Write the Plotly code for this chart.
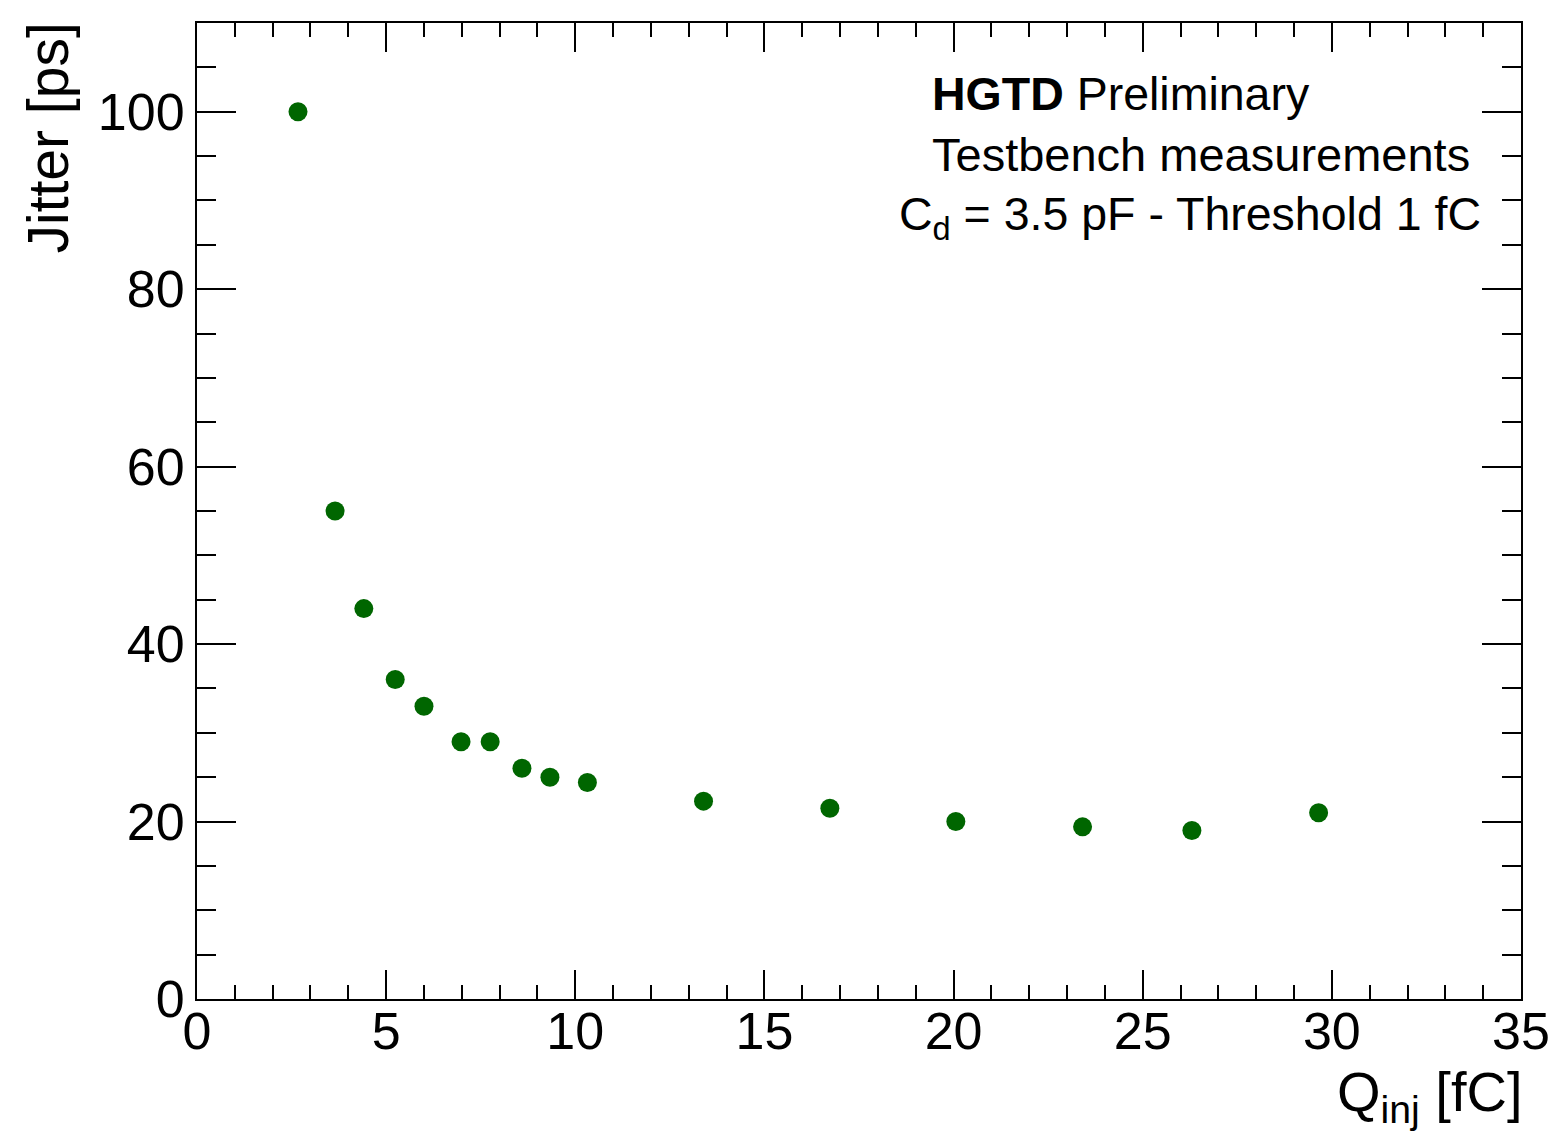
import plotly.graph_objects as go

q_inj = [2.67, 3.65, 4.41, 5.24, 6.0, 6.98, 7.75, 8.59, 9.33, 10.32, 13.39, 16.73, 20.06, 23.41, 26.30, 29.65]
jitter = [100.0, 55.0, 44.0, 36.0, 33.0, 29.0, 29.0, 26.0, 25.0, 24.4, 22.3, 21.5, 20.0, 19.4, 19.0, 21.0]

x_ticks = [0, 5, 10, 15, 20, 25, 30, 35]
y_ticks = [0, 20, 40, 60, 80, 100]

FONT = "Liberation Sans, Arial, Helvetica, sans-serif"
W, H = 1556, 1139
L, R, T, B = 197, 35, 23, 140
PW, PH = W - L - R, H - T - B


def px(xp):
    return (xp - L) / PW


def py(yp):
    return (H - B - yp) / PH


fig = go.Figure()
fig.add_trace(go.Scatter(
    x=q_inj, y=jitter, mode="markers",
    marker=dict(size=19, color="#006600", line=dict(width=0)),
    showlegend=False, cliponaxis=False,
))

axis_common = dict(
    showline=True, linecolor="black", linewidth=2, mirror="allticks",
    ticks="inside", tickwidth=2, tickcolor="black",
    showgrid=False, zeroline=False, automargin=False,
    tickfont=dict(family=FONT, size=52, color="black"),
)

fig.update_xaxes(
    range=[0, 35], tickvals=x_ticks, ticklen=29, ticklabelstandoff=-14,
    minor=dict(ticks="inside", dtick=1, ticklen=14, tickwidth=2, tickcolor="black", showgrid=False),
    **axis_common,
)
fig.update_yaxes(
    range=[0, 110], tickvals=y_ticks, ticklen=39,
    minor=dict(ticks="inside", dtick=5, ticklen=19, tickwidth=2, tickcolor="black", showgrid=False),
    **axis_common,
)

annotations = [
    dict(text="Jitter [ps]", textangle=-90, x=px(47), y=py(21), xanchor="center", yanchor="top",
         font=dict(family=FONT, size=57, color="black")),
    dict(text="Q<sub>inj</sub> [fC]", x=px(1524), y=py(1095), xanchor="right", yanchor="middle",
         font=dict(family=FONT, size=56, color="black")),
    dict(text="<b>HGTD</b> Preliminary", x=px(930), y=py(94), xanchor="left", yanchor="middle",
         font=dict(family=FONT, size=46.5, color="black")),
    dict(text="Testbench measurements", x=px(930), y=py(154), xanchor="left", yanchor="middle",
         font=dict(family=FONT, size=47, color="black")),
    dict(text="C<sub>d</sub> = 3.5 pF - Threshold 1 fC", x=px(897), y=py(218), xanchor="left", yanchor="middle",
         font=dict(family=FONT, size=46.5, color="black")),
]
for a in annotations:
    a.update(xref="paper", yref="paper", showarrow=False)

fig.update_layout(
    template="none",
    width=W, height=H,
    margin=dict(l=L, r=R, t=T, b=B, pad=0, autoexpand=False),
    paper_bgcolor="white", plot_bgcolor="white",
    annotations=annotations,
    font=dict(family=FONT, color="black"),
)

fig.write_html(
    "out.html",
    config={"displayModeBar": False},
    post_script="document.body.style.margin='0';document.body.style.padding='0';document.body.style.overflow='hidden';",
)
